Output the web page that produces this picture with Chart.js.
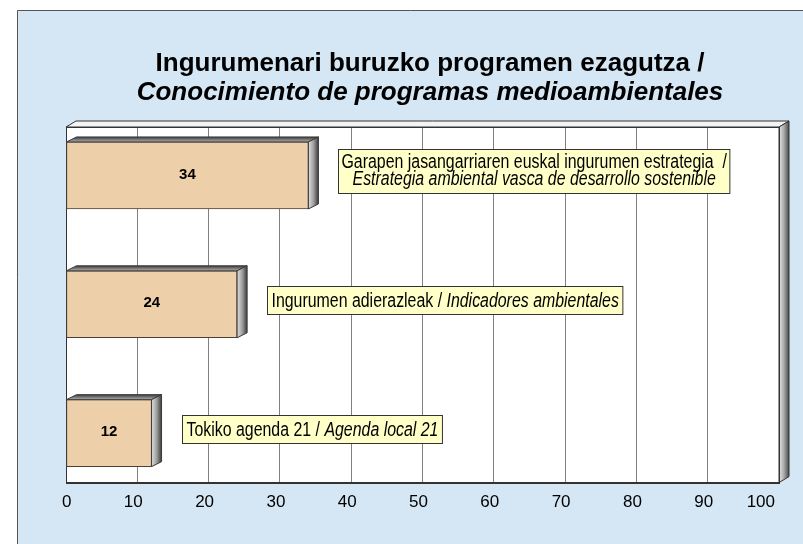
<!DOCTYPE html>
<html>
<head>
<meta charset="utf-8">
<script src="https://cdn.jsdelivr.net/npm/chart.js@4.4.1/dist/chart.umd.min.js"></script>
<style>
  body { margin: 0; background: #fff; }
  #wrap { width: 803px; height: 544px; }
</style>
</head>
<body>
<div id="wrap"><canvas id="programas" width="803" height="544"></canvas></div>
<script>
// Datuak / datos
var titleEu = 'Ingurumenari buruzko programen ezagutza /';
var titleEs = 'Conocimiento de programas medioambientales';
var categoriesEu = ['Garapen jasangarriaren euskal ingurumen estrategia', 'Ingurumen adierazleak', 'Tokiko agenda 21'];
var categoriesEs = ['Estrategia ambiental vasca de desarrollo sostenible', 'Indicadores ambientales', 'Agenda local 21'];
var values = [34, 24, 12];
var xTicks = [0, 10, 20, 30, 40, 50, 60, 70, 80, 90, 100];

var W = 803, H = 544;
var DX = 10, DY = -6;      // profondeur du cadre 3D
var BDX = 10, BDY = -5;    // profondeur des barres

// police étroite dispo ?
function hasFont(name) {
  var c = document.createElement('canvas').getContext('2d');
  var s = 'abcdefghijklmnopqrstuvwxyz';
  c.font = '20px monospace';
  var w0 = c.measureText(s).width;
  c.font = '20px "' + name + '", monospace';
  return c.measureText(s).width !== w0;
}
var narrow = hasFont('Liberation Sans Narrow');
var boxFamily = narrow ? '"Liberation Sans Narrow"' : '"Liberation Sans", Arial';
var boxScale = narrow ? 1 : 0.82;
var boxSize = 19.4;

function segWidth(ctx, segs) {
  var w = 0;
  segs.forEach(function(s) {
    ctx.font = (s.it ? 'italic ' : '') + boxSize + 'px ' + boxFamily;
    w += ctx.measureText(s.t).width;
  });
  return w * boxScale;
}

function drawSegs(ctx, segs, x, y) {
  ctx.save();
  ctx.translate(x, y);
  ctx.scale(boxScale, 1);
  var cx = 0;
  ctx.textAlign = 'left';
  ctx.textBaseline = 'alphabetic';
  ctx.fillStyle = '#000';
  segs.forEach(function(s) {
    ctx.font = (s.it ? 'italic ' : '') + boxSize + 'px ' + boxFamily;
    ctx.fillText(s.t, cx, 0);
    cx += ctx.measureText(s.t).width;
  });
  ctx.restore();
}

var decor = {
  id: 'decor',
  beforeDraw: function(chart) {
    var ctx = chart.ctx, a = chart.chartArea;
    ctx.save();
    ctx.fillStyle = '#fff';
    ctx.fillRect(0, 0, W, H);
    // panneau bleu
    ctx.fillStyle = '#D5E7F5';
    ctx.fillRect(17.5, 10.5, W, H);
    ctx.strokeStyle = '#555';
    ctx.lineWidth = 1;
    ctx.beginPath();
    ctx.moveTo(17.5, H);
    ctx.lineTo(17.5, 10.5);
    ctx.lineTo(W, 10.5);
    ctx.stroke();

    // titre
    ctx.fillStyle = '#000';
    ctx.textAlign = 'center';
    ctx.textBaseline = 'alphabetic';
    ctx.font = 'bold 26px "Liberation Sans", Arial, sans-serif';
    ctx.fillText(titleEu, 430, 71);
    ctx.font = 'italic bold 26px "Liberation Sans", Arial, sans-serif';
    ctx.fillText(titleEs, 430, 100);

    // face avant
    ctx.fillStyle = '#fff';
    ctx.fillRect(a.left, a.top, a.right - a.left, a.bottom - a.top);
    // bande du haut
    ctx.beginPath();
    ctx.moveTo(a.left, a.top);
    ctx.lineTo(a.left + DX, a.top + DY);
    ctx.lineTo(a.right + DX, a.top + DY);
    ctx.lineTo(a.right, a.top);
    ctx.closePath();
    ctx.fillStyle = '#f4f4f4';
    ctx.fill();
    ctx.strokeStyle = '#333';
    ctx.stroke();
    // côté droit
    var g = ctx.createLinearGradient(a.right, 0, a.right + DX, 0);
    g.addColorStop(0, '#e6e6e6');
    g.addColorStop(0.5, '#a8a8a8');
    g.addColorStop(1, '#4a4a4a');
    ctx.beginPath();
    ctx.moveTo(a.right, a.top);
    ctx.lineTo(a.right + DX, a.top + DY);
    ctx.lineTo(a.right + DX, a.bottom + DY);
    ctx.lineTo(a.right, a.bottom);
    ctx.closePath();
    ctx.fillStyle = g;
    ctx.fill();
    ctx.stroke();
    ctx.restore();
  },
  beforeDatasetsDraw: function(chart) {
    var ctx = chart.ctx, a = chart.chartArea;
    ctx.save();
    ctx.strokeStyle = '#333';
    ctx.lineWidth = 1;
    ctx.strokeRect(Math.round(a.left) + 0.5, Math.round(a.top) + 0.5, Math.round(a.right - a.left), Math.round(a.bottom - a.top));
    ctx.restore();
  },
  afterDatasetsDraw: function(chart) {
    var ctx = chart.ctx;
    var meta = chart.getDatasetMeta(0);
    ctx.save();
    meta.data.forEach(function(bar, i) {
      var p = bar.getProps(['x', 'y', 'base', 'height'], true);
      var l = Math.min(p.x, p.base), r = Math.max(p.x, p.base);
      var t = p.y - p.height / 2, b = p.y + p.height / 2;

      // face du dessus
      var gt = ctx.createLinearGradient(0, t + BDY, 0, t);
      gt.addColorStop(0, '#3c3c3c');
      gt.addColorStop(1, '#b0b0b0');
      ctx.beginPath();
      ctx.moveTo(l, t);
      ctx.lineTo(l + BDX, t + BDY);
      ctx.lineTo(r + BDX, t + BDY);
      ctx.lineTo(r, t);
      ctx.closePath();
      ctx.fillStyle = gt;
      ctx.fill();
      ctx.strokeStyle = '#3a3a3a';
      ctx.lineWidth = 1;
      ctx.stroke();

      // côté droit
      var gs = ctx.createLinearGradient(r, 0, r + BDX, 0);
      gs.addColorStop(0, '#e0e0e0');
      gs.addColorStop(0.5, '#a0a0a0');
      gs.addColorStop(1, '#3c3c3c');
      ctx.beginPath();
      ctx.moveTo(r, t);
      ctx.lineTo(r + BDX, t + BDY);
      ctx.lineTo(r + BDX, b + BDY);
      ctx.lineTo(r, b);
      ctx.closePath();
      ctx.fillStyle = gs;
      ctx.fill();
      ctx.stroke();

      // valeur
      ctx.fillStyle = '#000';
      ctx.font = 'bold 15px "Liberation Sans", Arial, sans-serif';
      ctx.textAlign = 'center';
      ctx.textBaseline = 'middle';
      ctx.fillText(String(values[i]), (l + r) / 2, p.y - 1);

      // étiquette
      var one = [{t: categoriesEu[i] + ' / ', it: false}, {t: categoriesEs[i], it: true}];
      var w1 = segWidth(ctx, one);
      var bx = r + 30, cy = p.y - 4;
      var lines, bw, bh;
      if (w1 > 390) {
        lines = [[{t: categoriesEu[i] + '  /', it: false}], [{t: categoriesEs[i], it: true}]];
        bw = Math.max(segWidth(ctx, lines[0]), segWidth(ctx, lines[1])) + 6;
        bh = 44;
      } else {
        lines = [one];
        bw = w1 + 8;
        bh = 28;
      }
      var by = Math.round(cy - bh / 2) + 0.5;
      bx = Math.round(bx) + 0.5;
      ctx.fillStyle = '#FFFFC8';
      ctx.fillRect(bx, by, bw, bh);
      ctx.strokeStyle = '#333';
      ctx.strokeRect(bx, by, bw, bh);
      if (lines.length === 1) {
        drawSegs(ctx, lines[0], bx + 4, cy + 7);
      } else {
        lines.forEach(function(ln, k) {
          var lw = segWidth(ctx, ln);
          drawSegs(ctx, ln, bx + (bw - lw) / 2, cy - 3 + k * 17);
        });
      }
    });
    ctx.restore();
  }
};

var ctx = document.getElementById('programas').getContext('2d');
var grafikoa = new Chart(ctx, {
  type: 'bar',
  data: {
    labels: categoriesEu,
    datasets: [{
      label: titleEu,
      data: values.map(function(v, i) { return {x: v, y: i}; }),
      backgroundColor: '#EDD0A9',
      borderColor: '#4a4038',
      borderWidth: 1,
      borderSkipped: false,
      barThickness: 67
    }]
  },
  options: {
    indexAxis: 'y',
    responsive: false,
    animation: false,
    layout: { padding: { left: 66, right: 24, top: 127, bottom: 21 } },
    plugins: {
      legend: { display: false },
      tooltip: { enabled: false }
    },
    scales: {
      y: {
        type: 'linear',
        display: false,
        offset: false,
        reverse: true,
        min: -0.376,
        max: 2.384
      },
      x: {
        type: 'linear',
        min: 0,
        max: 100,
        afterBuildTicks: function(scale) {
          scale.ticks = xTicks.map(function(v) { return {value: v}; });
        },
        grid: { color: '#808080', lineWidth: 1, drawTicks: false },
        border: { color: '#333' },
        ticks: {
          autoSkip: false,
          maxRotation: 0,
          align: 'inner',
          labelOffset: -4,
          padding: 10,
          color: '#000',
          font: { family: '"Liberation Sans", Arial, sans-serif', size: 17 }
        }
      }
    }
  },
  plugins: [decor]
});
</script>
</body>
</html>
